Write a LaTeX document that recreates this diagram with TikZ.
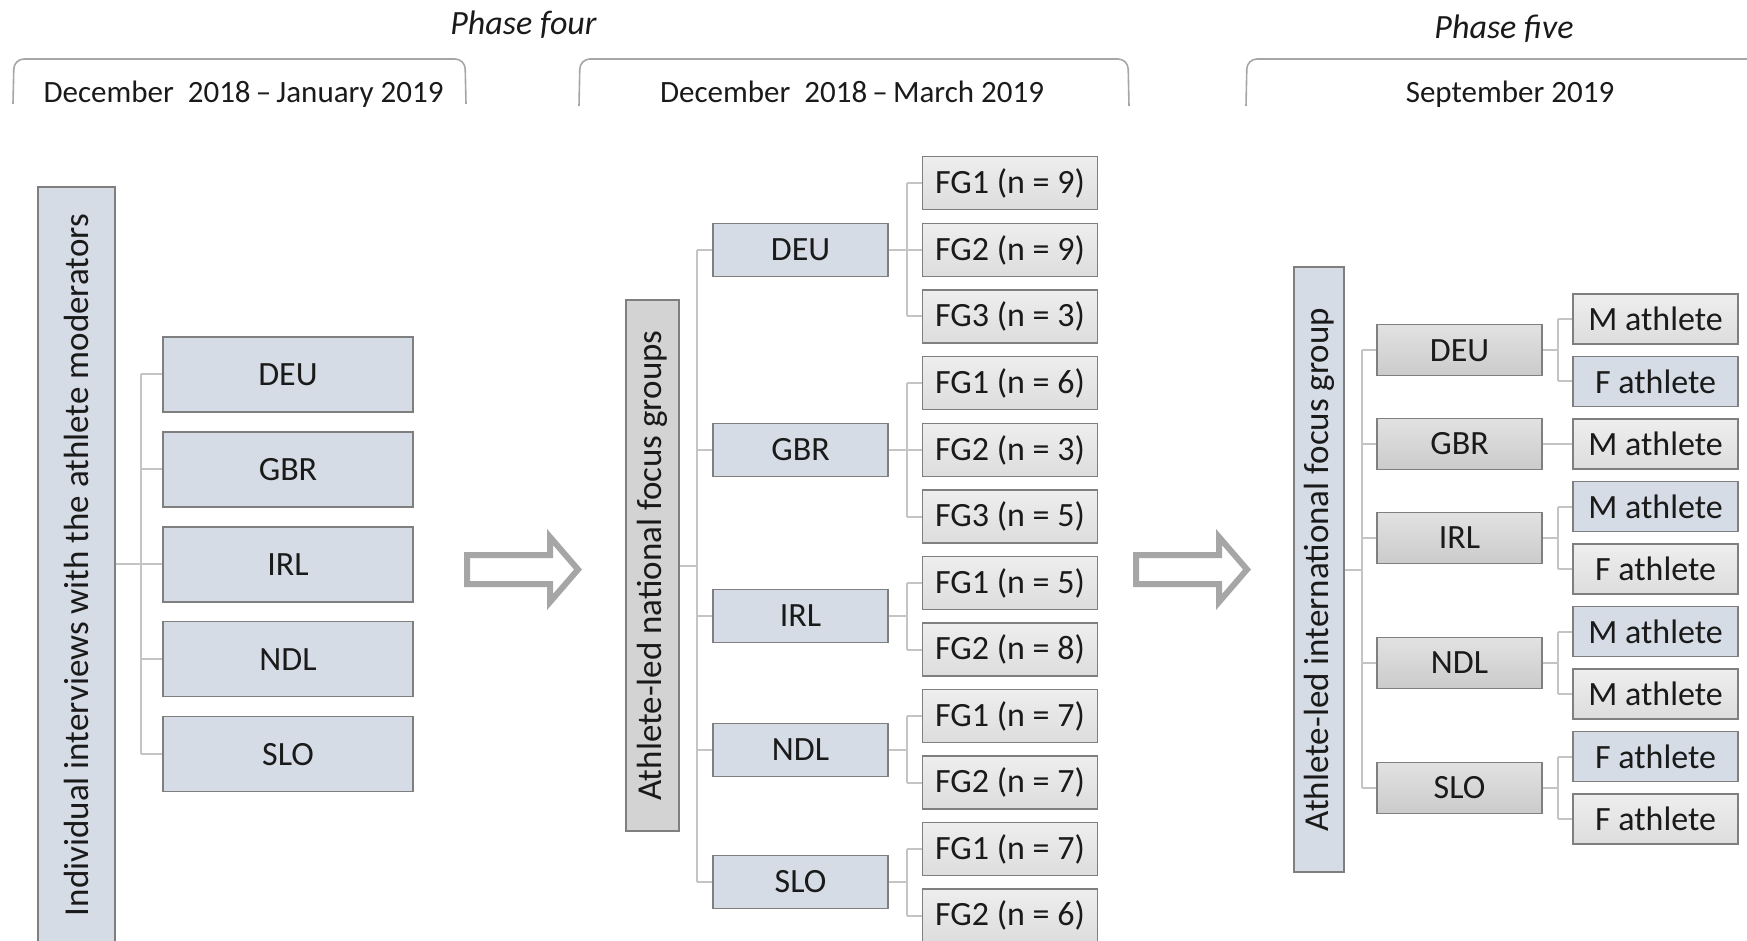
\documentclass[tikz,border=0pt]{standalone}
\usepackage{fontspec}
\setmainfont{Carlito}
\definecolor{bluegray}{HTML}{D6DCE5}
\definecolor{bord}{HTML}{7F7F7F}
\definecolor{conn}{HTML}{C4C4C4}
\definecolor{brk}{HTML}{A6A6A6}
\definecolor{txt}{HTML}{1A1A1A}
\definecolor{lgA}{HTML}{EEEEEE}
\definecolor{lgB}{HTML}{DDDDDD}
\definecolor{gA}{HTML}{E2E2E2}
\definecolor{gB}{HTML}{CBCBCB}
\definecolor{mgray}{HTML}{D3D3D3}
\tikzset{
  bx/.style={draw=bord, line width=0.75pt, inner sep=0pt, text=txt, font=\fontsize{17}{20}\selectfont},
  lctry/.style={bx, fill=bluegray, minimum width=125pt, minimum height=37.5pt},
  mctry/.style={bx, fill=bluegray, minimum width=87.5pt, minimum height=26.5pt},
  fgbox/.style={bx, top color=lgA, bottom color=lgB, minimum width=87.5pt, minimum height=26.5pt},
  rctry/.style={bx, top color=gA, bottom color=gB, minimum width=82.5pt, minimum height=25.5pt},
  athg/.style={bx, top color=lgA, bottom color=lgB, minimum width=82.5pt, minimum height=25pt},
  athb/.style={bx, fill=bluegray, minimum width=82.5pt, minimum height=25pt},
  tall/.style={bx, rotate=90, font=\fontsize{17.5}{20}\selectfont},
  cn/.style={draw=conn, line width=1pt},
  brack/.style={draw=brk, line width=0.8pt, rounded corners=5pt},
  hdr/.style={font=\fontsize{15.5}{18}\selectfont, text=txt, anchor=base, inner sep=0pt},
  phase/.style={font=\itshape\fontsize{17}{20}\selectfont, text=txt, anchor=base, inner sep=0pt},
  blockarrow/.style={draw=brk, line width=3pt, fill=white, line join=miter},
}
\begin{document}
\begin{tikzpicture}[x=0.5pt,y=-0.5pt]
\useasboundingbox (0,0) rectangle (1747,941);
\clip (0,0) rectangle (1747,941);

% ---------- headers ----------
\node[phase] (ph4) at (523.5,35) {Phase four};
\node[phase] (ph5) at (1504,39) {Phase five};
\draw[brack] (13,104) -- (14,59) -- (465,59) -- (466,104);
\draw[brack] (579,106) -- (580,59) -- (1128,59) -- (1129,106);
\draw[brack] (1246,106) -- (1247,59) -- (1770,59);
\node[hdr] (h1) at (243.5,103) {December\hspace{0.45em}2018\,–\,January 2019};
\node[hdr] (h2) at (852,103) {December\hspace{0.45em}2018\,–\,March 2019};
\node[hdr] (h3) at (1510,103) {September 2019};

% ---------- left section ----------
\node[tall, fill=bluegray, minimum width=378pt, minimum height=38.5pt] (ltall) at (76.5,565) {Individual interviews with the athlete moderators};
\node[lctry] (ldeu) at (288,374.5) {DEU};
\node[lctry] (lgbr) at (288,469.4) {GBR};
\node[lctry] (lirl) at (288,564.3) {IRL};
\node[lctry] (lndl) at (288,659.2) {NDL};
\node[lctry] (lslo) at (288,754.1) {SLO};
\coordinate (lt) at (141,0);
\draw[cn] (ltall.south |- lirl) -- (lirl.west);
\draw[cn] (lt |- ldeu) -- (lt |- lslo);
\foreach \n in {ldeu,lgbr,lndl,lslo} \draw[cn] (lt |- \n) -- (\n.west);

% ---------- arrows ----------
\draw[blockarrow] (467,555) -- (550,555) -- (550,537) -- (578,569.5) -- (550,602) -- (550,584) -- (467,584) -- cycle;
\draw[blockarrow] (1136,555) -- (1219,555) -- (1219,537) -- (1247,569.5) -- (1219,602) -- (1219,584) -- (1136,584) -- cycle;

% ---------- middle section ----------
\node[tall, fill=mgray, minimum width=265.5pt, minimum height=26.5pt] (mtall) at (652.5,565.5) {Athlete-led national focus groups};
\node[mctry] (mdeu) at (800.5,250) {DEU};
\node[mctry] (mgbr) at (800.5,450) {GBR};
\node[mctry] (mirl) at (800.5,616) {IRL};
\node[mctry] (mndl) at (800.5,750) {NDL};
\node[mctry] (mslo) at (800.5,882) {SLO};
\node[fgbox] (fd1) at (1010,183) {FG1 (n = 9)};
\node[fgbox] (fd2) at (1010,250) {FG2 (n = 9)};
\node[fgbox] (fd3) at (1010,316.5) {FG3 (n = 3)};
\node[fgbox] (fg1) at (1010,383) {FG1 (n = 6)};
\node[fgbox] (fg2) at (1010,450) {FG2 (n = 3)};
\node[fgbox] (fg3) at (1010,516.5) {FG3 (n = 5)};
\node[fgbox] (fi1) at (1010,583) {FG1 (n = 5)};
\node[fgbox] (fi2) at (1010,649.5) {FG2 (n = 8)};
\node[fgbox] (fn1) at (1010,716) {FG1 (n = 7)};
\node[fgbox] (fn2) at (1010,782.5) {FG2 (n = 7)};
\node[fgbox] (fs1) at (1010,849) {FG1 (n = 7)};
\node[fgbox] (fs2) at (1010,915.5) {FG2 (n = 6)};
\coordinate (mt) at (697,0);
\coordinate (ms) at (907,0);
\draw[cn] (mtall.south) -- (mt |- mtall.south);
\draw[cn] (mt |- mdeu) -- (mt |- mslo);
\foreach \n in {mdeu,mgbr,mirl,mndl,mslo} \draw[cn] (mt |- \n) -- (\n.west);
\foreach \c/\a/\b in {mdeu/fd1/fd3, mgbr/fg1/fg3, mirl/fi1/fi2, mndl/fn1/fn2, mslo/fs1/fs2} {
  \draw[cn] (\c.east) -- (ms |- \c);
  \draw[cn] (ms |- \a) -- (ms |- \b);
}
\foreach \n in {fd1,fd2,fd3,fg1,fg2,fg3,fi1,fi2,fn1,fn2,fs1,fs2} \draw[cn] (ms |- \n) -- (\n.west);

% ---------- right section ----------
\node[tall, fill=bluegray, minimum width=302.5pt, minimum height=25pt] (rtall) at (1319,569.5) {Athlete-led international focus group};
\node[rctry] (rdeu) at (1459.5,350.25) {DEU};
\node[rctry] (rgbr) at (1459.5,444) {GBR};
\node[rctry] (rirl) at (1459.5,537.75) {IRL};
\node[rctry] (rndl) at (1459.5,662.75) {NDL};
\node[rctry] (rslo) at (1459.5,787.75) {SLO};
\node[athg] (a1) at (1655.5,319) {M athlete};
\node[athb] (a2) at (1655.5,381.5) {F athlete};
\node[athg] (a3) at (1655.5,444) {M athlete};
\node[athb] (a4) at (1655.5,506.5) {M athlete};
\node[athg] (a5) at (1655.5,569) {F athlete};
\node[athb] (a6) at (1655.5,631.5) {M athlete};
\node[athg] (a7) at (1655.5,694) {M athlete};
\node[athb] (a8) at (1655.5,756.5) {F athlete};
\node[athg] (a9) at (1655.5,819) {F athlete};
\coordinate (rt) at (1362,0);
\coordinate (rs) at (1558,0);
\draw[cn] (rtall.south) -- (rt |- rtall.south);
\draw[cn] (rt |- rdeu) -- (rt |- rslo);
\foreach \n in {rdeu,rgbr,rirl,rndl,rslo} \draw[cn] (rt |- \n) -- (\n.west);
\draw[cn] (rgbr.east) -- (a3.west);
\foreach \c/\a/\b in {rdeu/a1/a2, rirl/a4/a5, rndl/a6/a7, rslo/a8/a9} {
  \draw[cn] (\c.east) -- (rs |- \c);
  \draw[cn] (rs |- \a) -- (rs |- \b);
  \draw[cn] (rs |- \a) -- (\a.west);
  \draw[cn] (rs |- \b) -- (\b.west);
}
\end{tikzpicture}
\end{document}
